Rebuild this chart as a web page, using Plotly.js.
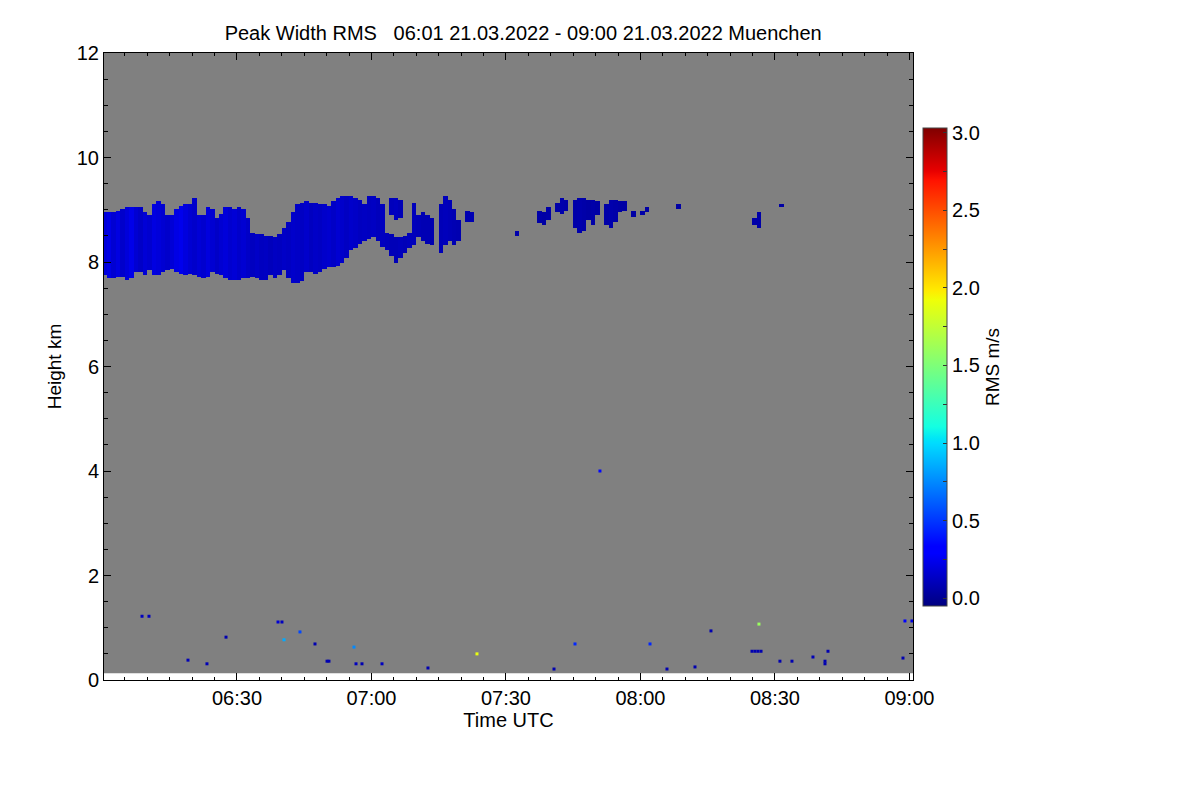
<!DOCTYPE html>
<html>
<head>
<meta charset="utf-8">
<script src="https://cdn.plot.ly/plotly-3.0.1.min.js"></script>
<style>body{margin:0;background:#fff}#plot{width:1200px;height:800px}</style>
</head>
<body>
<div id="plot"></div>
<script>
const day = "2022-03-21 "
const chart_title = "Peak Width RMS\u00a0\u00a0\u00a006:01 21.03.2022 - 09:00 21.03.2022 Muenchen"

// lowest range gate and top of the profile, km
const first_gate = 0.13
const top_height = 12

// cirrus layer, one vertical segment per 1-minute column (base/top in km, RMS in m/s)
const cloud_time = [
    "06:00","06:01","06:02","06:03","06:04","06:05","06:06","06:07","06:08","06:09",
    "06:10","06:11","06:12","06:13","06:14","06:15","06:16","06:17","06:18","06:19",
    "06:20","06:21","06:22","06:23","06:24","06:25","06:26","06:27","06:28","06:29",
    "06:30","06:31","06:32","06:33","06:34","06:35","06:36","06:37","06:38","06:39",
    "06:40","06:41","06:42","06:43","06:44","06:45","06:46","06:47","06:48","06:49",
    "06:50","06:51","06:52","06:53","06:54","06:55","06:56","06:57","06:58","06:59",
    "07:00","07:01","07:02","07:03","07:04","07:04","07:05","07:05","07:06","07:06",
    "07:07","07:08","07:09","07:10","07:11","07:12","07:13","07:15","07:16","07:17",
    "07:18","07:19","07:21","07:22",
    "07:32","07:37","07:38","07:39","07:41","07:42","07:43","07:45","07:46","07:47",
    "07:48","07:49","07:50","07:52","07:53","07:54","07:55","07:56","07:58","08:00",
    "08:01","08:08","08:25","08:26","08:31"
]
const cloud_base = [
    7.75, 7.69, 7.71, 7.73, 7.73, 7.67, 7.69, 7.81, 7.81, 7.77,
    7.85, 7.75, 7.75, 7.81, 7.85, 7.89, 7.81, 7.79, 7.77, 7.79,
    7.75, 7.73, 7.71, 7.73, 7.81, 7.79, 7.75, 7.69, 7.66, 7.67,
    7.67, 7.69, 7.71, 7.73, 7.69, 7.66, 7.66, 7.75, 7.71, 7.77,
    7.85, 7.69, 7.60, 7.60, 7.64, 7.81, 7.81, 7.79, 7.81, 7.89,
    7.92, 7.92, 7.94, 8.00, 8.08, 8.23, 8.27, 8.36, 8.42, 8.46,
    8.48, 8.42, 8.29, 8.23, 8.13, 8.90, 8.00, 8.80, 8.08, 8.84,
    8.19, 8.27, 8.33, 8.48, 8.42, 8.36, 8.33, 8.19, 8.33, 8.42,
    8.33, 8.42, 8.77, 8.78,
    8.52, 8.75, 8.71, 8.80, 8.95, 8.94, 9.00, 8.65, 8.57, 8.61,
    8.80, 8.71, 8.90, 8.71, 8.65, 8.77, 8.96, 8.99, 8.86, 8.90,
    8.96, 9.02, 8.71, 8.67, 9.05
]
const cloud_top = [
    8.96, 8.94, 8.96, 8.98, 9.00, 9.03, 9.05, 9.05, 9.03, 8.96,
    8.90, 9.11, 9.15, 9.09, 8.90, 8.90, 9.00, 9.07, 9.09, 9.11,
    9.22, 8.90, 8.90, 9.03, 9.00, 8.84, 8.92, 9.03, 9.05, 9.01,
    9.05, 9.00, 8.84, 8.57, 8.52, 8.52, 8.50, 8.50, 8.48, 8.54,
    8.65, 8.77, 8.96, 9.09, 9.13, 9.15, 9.13, 9.13, 9.09, 9.11,
    9.07, 9.17, 9.22, 9.24, 9.24, 9.24, 9.22, 9.19, 9.09, 9.24,
    9.24, 9.22, 9.09, 8.57, 8.52, 9.22, 8.46, 9.22, 8.46, 9.19,
    8.50, 8.55, 9.13, 8.90, 8.96, 8.90, 8.84, 9.09, 9.24, 9.19,
    9.00, 8.80, 8.99, 8.96,
    8.58, 8.99, 8.96, 9.05, 9.13, 9.22, 9.19, 9.19, 9.22, 9.22,
    9.19, 9.20, 9.15, 9.09, 9.19, 9.19, 9.17, 9.17, 8.99, 8.99,
    9.05, 9.09, 8.84, 8.94, 9.11
]
const cloud_rms = [
    0.19, 0.22, 0.17, 0.21, 0.15, 0.19, 0.23, 0.17, 0.14, 0.18,
    0.16, 0.21, 0.19, 0.17, 0.15, 0.18, 0.22, 0.24, 0.20, 0.17,
    0.15, 0.18, 0.16, 0.20, 0.17, 0.14, 0.17, 0.19, 0.16, 0.18,
    0.15, 0.17, 0.14, 0.12, 0.14, 0.12, 0.13, 0.11, 0.13, 0.12,
    0.14, 0.13, 0.15, 0.14, 0.13, 0.15, 0.12, 0.14, 0.13, 0.15,
    0.16, 0.14, 0.17, 0.15, 0.13, 0.15, 0.14, 0.12, 0.13, 0.12,
    0.13, 0.11, 0.12, 0.11, 0.10, 0.11, 0.10, 0.12, 0.11, 0.10,
    0.10, 0.11, 0.11, 0.10, 0.09, 0.09, 0.08, 0.10, 0.11, 0.10,
    0.09, 0.08, 0.08, 0.09,
    0.07, 0.06, 0.05, 0.06, 0.06, 0.07, 0.06, 0.06, 0.07, 0.06,
    0.05, 0.06, 0.05, 0.06, 0.07, 0.06, 0.05, 0.05, 0.05, 0.06,
    0.05, 0.05, 0.06, 0.06, 0.05
]

// isolated returns near the ground
const speck_time = [
    "06:08:49","06:10:22","06:19:04","06:23:18","06:27:33","06:39:09","06:40:02","06:40:29",
    "06:44:03","06:47:24","06:50:05","06:50:31","06:56:06","06:56:33","06:57:53","07:02:21",
    "07:12:36","07:23:32","07:40:43","07:45:24","07:50:58","08:02:08","08:05:55","08:12:10",
    "08:15:44","08:24:53","08:25:33","08:26:13","08:26:54","08:26:26","08:31:07","08:33:48",
    "08:38:29","08:41:10","08:41:10","08:41:50","08:58:34","08:59:00","09:00:34"
]
const speck_height = [
    1.22, 1.22, 0.38, 0.31, 0.82, 1.11, 1.11, 0.77,
    0.92, 0.69, 0.36, 0.36, 0.63, 0.31, 0.31, 0.31,
    0.23, 0.50, 0.21, 0.69, 4.00, 0.69, 0.21, 0.25,
    0.94, 0.55, 0.55, 0.55, 0.55, 1.07, 0.36, 0.36,
    0.44, 0.36, 0.31, 0.55, 0.42, 1.13, 1.13
]
const speck_rms = [
    0.12, 0.12, 0.10, 0.10, 0.08, 0.18, 0.12, 0.85,
    0.55, 0.08, 0.08, 0.08, 0.75, 0.12, 0.08, 0.12,
    0.08, 1.90, 0.08, 0.45, 0.35, 0.45, 0.08, 0.08,
    0.08, 0.08, 0.08, 0.08, 0.08, 1.60, 0.08, 0.08,
    0.10, 0.08, 0.08, 0.08, 0.08, 0.30, 0.20
]

const rms_min = -0.05
const rms_max = 3.03
const rms_tickvals = [0, 0.25, 0.5, 0.75, 1, 1.25, 1.5, 1.75, 2, 2.25, 2.5, 2.75, 3]
const rms_ticktext = ["0.0", "", "0.5", "", "1.0", "", "1.5", "", "2.0", "", "2.5", "", "3.0"]

// jet, as in the original plot
const jet = [
    [0, 'rgb(0,0,128)'], [0.11, 'rgb(0,0,255)'], [0.125, 'rgb(0,0,255)'],
    [0.34, 'rgb(0,219,255)'], [0.35, 'rgb(0,229,247)'], [0.375, 'rgb(20,255,226)'],
    [0.64, 'rgb(239,255,8)'], [0.66, 'rgb(255,235,0)'], [0.89, 'rgb(255,19,0)'],
    [0.91, 'rgb(232,0,0)'], [1, 'rgb(128,0,0)']
]

function pad(n) { return (n < 10 ? "0" : "") + n }
function minute_of(t) {
    const p = t.split(":")
    return (parseInt(p[0]) - 6) * 60 + parseInt(p[1])
}

function reset() {

    // heatmap grid: 1 minute by 30 m
    const row_step = 0.03
    let rows = []
    for (let i = 0; 7.5 + i * row_step <= 9.3; i++) rows.push(+(7.5 + i * row_step).toFixed(2))
    let cols = []
    for (let m = 0; m <= 180; m++) cols.push(day + pad(6 + Math.floor(m / 60)) + ":" + pad(m % 60) + ":30")

    let z = rows.map(() => cols.map(() => null))
    cloud_time.forEach((t, i) => {
        const m = minute_of(t)
        rows.forEach((h, r) => {
            if (h >= cloud_base[i] && h <= cloud_top[i]) z[r][m] = cloud_rms[i]
        })
    })

    let data = []
    data.push({
        type: 'heatmap', x: cols, y: rows, z: z,
        colorscale: jet, zmin: rms_min, zmax: rms_max, hoverinfo: 'none',
        colorbar: {
            x: 1.0124, xanchor: 'left', xpad: 0, ypad: 0,
            y: 0.4992, yanchor: 'middle', len: 478, lenmode: 'pixels',
            thickness: 24, thicknessmode: 'pixels',
            outlinewidth: 1, outlinecolor: '#444',
            tickmode: 'array', tickvals: rms_tickvals, ticktext: rms_ticktext,
            ticks: 'inside', ticklen: 4, tickcolor: '#333',
            tickfont: { size: 20 },
            title: { text: 'RMS m/s', side: 'right', font: { size: 19 } }
        }
    })
    data.push({
        type: 'scatter', mode: 'markers',
        x: speck_time.map(t => day + t), y: speck_height,
        marker: { symbol: 'square', size: 3, color: speck_rms, colorscale: jet, cmin: rms_min, cmax: rms_max, showscale: false, line: { width: 0 } },
        hoverinfo: 'none', showlegend: false
    })

    const axis_common = {
        ticks: 'inside', ticklen: 7, tickcolor: 'black', tickwidth: 1,
        showline: true, linecolor: 'black', linewidth: 1, mirror: 'allticks',
        showgrid: false, zeroline: false, fixedrange: true,
        tickfont: { size: 20 }
    }

    const layout = {
        width: 1200, height: 800,
        margin: { l: 104, r: 287, t: 53, b: 120 },
        paper_bgcolor: 'white', plot_bgcolor: 'white',
        font: { family: 'Liberation Sans, Arial, sans-serif', size: 20, color: 'black' },
        title: { text: chart_title, xref: 'container', x: 0.436, xanchor: 'center', yref: 'container', y: 0.959, yanchor: 'middle', font: { size: 20 } },
        xaxis: Object.assign({}, axis_common, {
            type: 'date', range: [day + '06:00:20', day + '09:00:48'],
            tick0: day + '06:00', dtick: 1800000, tickformat: '%H:%M',
            minor: { dtick: 300000, ticks: 'inside', ticklen: 3, tickcolor: 'black', showgrid: false },
            title: { text: 'Time UTC', standoff: 2, font: { size: 20 } }
        }),
        yaxis: Object.assign({}, axis_common, {
            range: [0, top_height], dtick: 2, tick0: 0,
            minor: { dtick: 0.5, ticks: 'inside', ticklen: 4, tickcolor: 'black', showgrid: false },
            title: { text: 'Height km', standoff: 10, font: { size: 19 } }
        }),
        shapes: [{ type: 'rect', xref: 'paper', x0: 0, x1: 1, yref: 'y', y0: first_gate, y1: top_height, fillcolor: '#808080', line: { width: 0 }, layer: 'below' }]
    }

    let plot = document.getElementById("plot")
    Plotly.newPlot(plot, data, layout, { displayModeBar: false, staticPlot: true })
}

reset()
</script>
</body>
</html>
